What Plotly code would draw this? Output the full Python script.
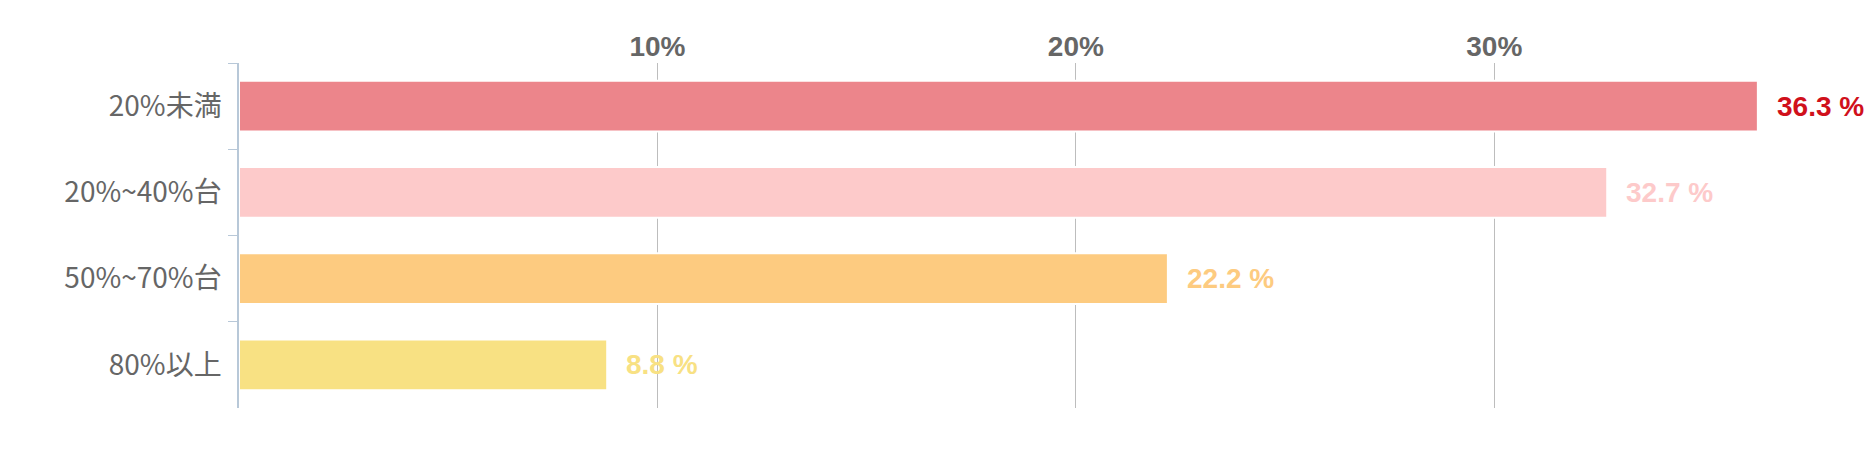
import plotly.graph_objects as go

categories = ["20%未満", "20%~40%台", "50%~70%台", "80%以上"]
values = [36.3, 32.7, 22.2, 8.8]
bar_colors = ["#EC858B", "#FDCACA", "#FDCB80", "#F8E183"]
label_colors = ["#D0101B", "#FDCACA", "#FDCB80", "#F8E183"]
tick_vals = [10, 20, 30]
tick_text = ["10%", "20%", "30%"]

fig = go.Figure()
fig.add_trace(go.Bar(
    x=values, y=categories, orientation="h",
    marker=dict(color=bar_colors, line=dict(color="white", width=2)),
    hoverinfo="skip",
))

for v, c, col in zip(values, categories, label_colors):
    fig.add_annotation(
        x=v, y=c, text=f"{v} %", showarrow=False, xanchor="left", xshift=17,
        font=dict(family="Liberation Sans, Arial, sans-serif", size=28, color=col, weight="bold"),
    )

fig.update_layout(
    width=1875, height=471,
    margin=dict(l=231, r=54, t=55, b=71),
    plot_bgcolor="white", paper_bgcolor="white",
    bargap=0.41, showlegend=False,
    xaxis=dict(
        side="top", range=[0, 38], tickvals=tick_vals, ticktext=tick_text,
        showgrid=True, gridcolor="#BDBDBD", gridwidth=1.2, zeroline=False,
        showline=False, ticks="",
        tickfont=dict(family="Liberation Sans, Arial, sans-serif", size=28, color="#666666", weight="bold"),
    ),
    yaxis=dict(
        autorange="reversed", tickson="boundaries", ticks="outside", ticklen=9,
        tickcolor="#B8C8D8", showline=True, linecolor="#B8C8D8", linewidth=1.5,
        showgrid=False, zeroline=False, ticklabelstandoff=10,
        tickfont=dict(family="Noto Sans CJK JP, sans-serif", size=28, color="#666666"),
    ),
)

fig.write_html("out.html")
